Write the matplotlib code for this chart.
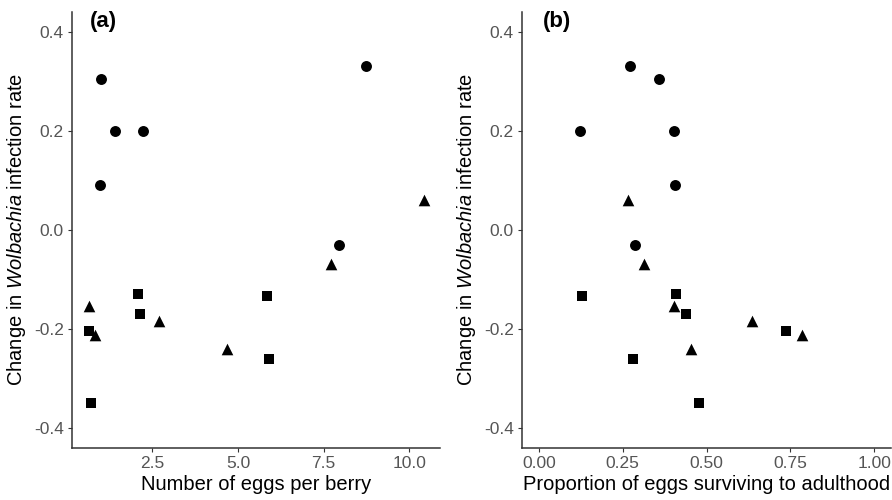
import matplotlib
matplotlib.use('Agg')
import matplotlib.pyplot as plt

plt.rcParams['font.family'] = ['Liberation Sans', 'DejaVu Sans']
plt.rcParams['mathtext.fontset'] = 'custom'
plt.rcParams['mathtext.rm'] = 'Liberation Sans'
plt.rcParams['mathtext.it'] = 'Liberation Sans:italic'

# change in infection rate, per group (circle / triangle / square)
circle_y = [0.33, 0.305, 0.2, 0.2, 0.091, -0.031]
circle_eggs = [8.72, 1.02, 1.40, 2.24, 0.97, 7.95]
circle_surv = [0.271, 0.359, 0.122, 0.404, 0.407, 0.286]

triangle_y = [0.06, -0.069, -0.153, -0.184, -0.212, -0.24]
triangle_eggs = [10.42, 7.71, 0.66, 2.69, 0.82, 4.69]
triangle_surv = [0.266, 0.313, 0.403, 0.636, 0.784, 0.455]

square_y = [-0.129, -0.133, -0.169, -0.205, -0.261, -0.349]
square_eggs = [2.07, 5.85, 2.13, 0.67, 5.91, 0.70]
square_surv = [0.409, 0.128, 0.438, 0.736, 0.280, 0.478]

y_ticks = [-0.4, -0.2, 0.0, 0.2, 0.4]
y_ticklabels = ['-0.4', '-0.2', '0.0', '0.2', '0.4']

fig = plt.figure(figsize=(8.92, 5), dpi=100)
ax1 = fig.add_axes([72 / 892, 52.3 / 500, 368 / 892, 435.7 / 500])
ax2 = fig.add_axes([522 / 892, 52.3 / 500, 369 / 892, 435.7 / 500])

groups = [
    (circle_y, circle_eggs, circle_surv, 'o', 62),
    (triangle_y, triangle_eggs, triangle_surv, '^', 70),
    (square_y, square_eggs, square_surv, 's', 56),
]
for ys, xe, xs, m, s in groups:
    ax1.scatter(xe, ys, marker=m, s=s, color='black', linewidths=0, zorder=3)
    ax2.scatter(xs, ys, marker=m, s=s, color='black', linewidths=0, zorder=3)

ax1.set_xlim(0.16, 10.89)
ax1.set_xticks([2.5, 5.0, 7.5, 10.0])
ax1.set_xticklabels(['2.5', '5.0', '7.5', '10.0'])
ax1.set_xlabel('Number of eggs per berry', fontsize=14.5, labelpad=3)

ax2.set_xlim(-0.05, 1.05)
ax2.set_xticks([0, 0.25, 0.5, 0.75, 1.0])
ax2.set_xticklabels(['0.00', '0.25', '0.50', '0.75', '1.00'])
ax2.set_xlabel('Proportion of eggs surviving to adulthood', fontsize=14.5, labelpad=3)

for ax in (ax1, ax2):
    ax.set_ylim(-0.44, 0.44)
    ax.set_yticks(y_ticks)
    ax.set_yticklabels(y_ticklabels)
    ax.set_ylabel('Change in $\\it{Wolbachia}$ infection rate', fontsize=14.5, labelpad=4)
    ax.spines['top'].set_visible(False)
    ax.spines['right'].set_visible(False)
    for sp in ('left', 'bottom'):
        ax.spines[sp].set_color('#333333')
        ax.spines[sp].set_linewidth(1.1)
    ax.tick_params(axis='both', colors='#333333', labelcolor='#555555',
                   labelsize=12.5, length=3, width=0.8, pad=3)

fig.text(90 / 892, 1 - 21 / 500, '(a)', fontsize=16, fontweight='bold', va='center', ha='left')
fig.text(543 / 892, 1 - 21 / 500, '(b)', fontsize=16, fontweight='bold', va='center', ha='left')

fig.savefig('out.png', dpi=100)
